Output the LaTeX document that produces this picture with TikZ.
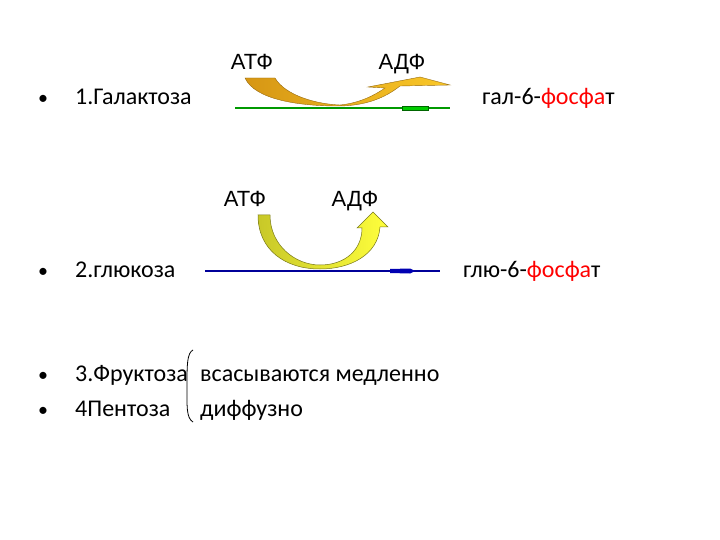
\documentclass[tikz,border=0pt]{standalone}
\usepackage{fontspec}
\setmainfont{Carlito}
\newfontfamily\arialf{Liberation Sans}
\begin{document}
\begin{tikzpicture}[x=1pt,y=-1pt,
  txt/.style={anchor=base west,inner sep=0,font=\fontsize{24}{28}\selectfont},
  bul/.style={anchor=base west,inner sep=0,font=\fontsize{20}{24}\selectfont},
  lab/.style={anchor=base,inner sep=0,font=\arialf\fontsize{22}{26}\selectfont}]
\useasboundingbox (0,0) rectangle (720,540);
\definecolor{gold1}{RGB}{214,150,20}
\definecolor{gold2}{RGB}{250,200,40}
\definecolor{yel1}{RGB}{200,200,40}
\definecolor{yel2}{RGB}{255,255,60}
% row 1
\node[bul] (d1) at (38,105) {•};
\node[txt] (b1) at (75,105) {1.Галактоза};
\node[txt] (p1) at (482,105) {гал-6-\textcolor{red}{фосфа}т};
\node[lab] (atf1) at (252,70) {АТФ};
\node[lab] (adf1) at (402,70) {АДФ};
\draw[green!60!black,line width=1.2pt] (235,108) -- (450,108);
\fill[green!80!black,draw=green!40!black] (402,106) rectangle (428,110);
\path[draw=gold1!70!black,line width=0.4pt,left color=gold1,right color=gold2]
  (245,78) -- (275,78) .. controls (285,95) and (315,104) .. (340,105)
  .. controls (360,103) and (375,95) .. (385,88) -- (368,87) -- (420,77) -- (450,85) -- (400,86)
  .. controls (385,98) and (365,106) .. (338,106)
  .. controls (300,106) and (255,100) .. (245,78) -- cycle;
% row 2
\node[bul] (d2) at (38,277) {•};
\node[txt] (b2) at (75,277) {2.глюкоза};
\node[txt] (p2) at (463,277) {глю-6-\textcolor{red}{фосфа}т};
\node[lab] (atf2) at (245,207) {АТФ};
\node[lab] (adf2) at (355,207) {АДФ};
\draw[blue!60!black,line width=1.5pt] (205,271) -- (440,271);
\fill[blue!70!black] (390,269) -- (410,268.5) -- (415,271) -- (410,273.5) -- (390,273) -- cycle;
\path[draw=yel1!60!black,line width=0.5pt,left color=yel1,right color=yel2]
  (258,215) -- (270,215) .. controls (270,245) and (295,265) .. (320,265)
  .. controls (345,265) and (362,250) .. (362,228) -- (357,228) -- (373,212) -- (388,227) -- (380,227)
  .. controls (378,255) and (350,269) .. (320,269)
  .. controls (285,269) and (258,250) .. (258,215) -- cycle;
% rows 3,4
\node[bul] (d3) at (38,381) {•};
\node[bul] (d4) at (38,416) {•};
\node[txt] (b3) at (75,381) {3.Фруктоза};
\node[txt] (b4) at (75,416) {4Пентоза};
\node[txt] (s3) at (200,381) {всасываются медленно};
\node[txt] (s4) at (200,416) {диффузно};
\draw[line width=0.8pt] (193,350) .. controls (187,353) and (187,365) .. (187,385)
  .. controls (187,405) and (186,418) .. (193,422);
\end{tikzpicture}
\end{document}
